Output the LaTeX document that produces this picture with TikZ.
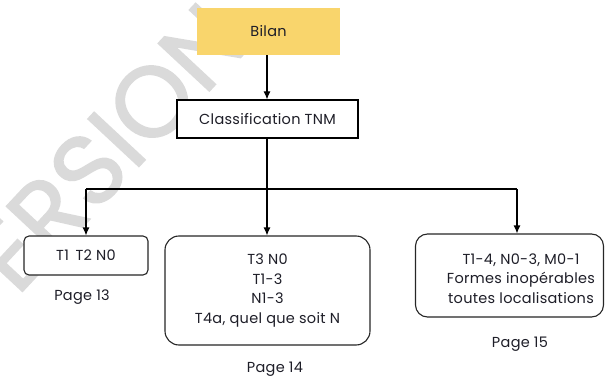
\documentclass[tikz,border=0pt]{standalone}
\usepackage{fontspec}
\setmainfont[LetterSpace=2]{Poppins}
\newfontfamily\wmfont[FakeBold=1.5]{Poppins}
\usetikzlibrary{arrows.meta}
\definecolor{bilanfill}{HTML}{F9D56C}
\definecolor{txt}{HTML}{1E1E28}
\definecolor{wmark}{HTML}{DADADA}
\tikzset{
  x=1pt, y=-1pt,
  every node/.style={font=\fontsize{14.5}{19.5}\selectfont, text=txt, inner sep=0pt},
  conn/.style={line width=1.1pt, draw=black},
  arr/.style={conn, -{Latex[length=8pt,width=7pt]}},
  squarebox/.style={draw=black, line width=1.1pt, fill=white},
  roundbox/.style={draw=black!85, line width=1.1pt, fill=white},
  pagelbl/.style={},
}
\begin{document}
\begin{tikzpicture}
\useasboundingbox (0,0) rectangle (605,377);
% faint watermark behind the chart
\node[text=wmark, font=\wmfont\fontsize{100}{100}\selectfont, rotate=47] (wm) at (86,172) {VERSION};

% top of the chart
\node[fill=bilanfill, minimum width=143pt, minimum height=47pt] (bilan) at (268.5,31.5) {Bilan};
\node[squarebox, minimum width=181pt, minimum height=38pt] (tnm) at (267.5,119) {Classification TNM};

% the three outcomes
\node[roundbox, rounded corners=5pt, minimum width=124pt, minimum height=39pt] (left) at (86,255.5) {T1\, T2 N0};
\node[roundbox, rounded corners=14pt, minimum width=205pt, minimum height=109pt, align=center] (mid) at (267.5,290.5) {T3 N0\\T1-3\\N1-3\\T4a, quel que soit N};
\node[roundbox, rounded corners=12pt, minimum width=188pt, minimum height=83pt] (right) at (509.5,275.5) {};
\node[align=center] (righttext) at (521,278.5) {T1-4, N0-3, M0-1\\Formes inopérables\\toutes localisations};

% page references
\node[pagelbl] (p13) at (82,297) {Page 13};
\node[pagelbl] (p14) at (275,369) {Page 14};
\node[pagelbl] (p15) at (520,344) {Page 15};

% connectors
\coordinate (jL) at (86,189);
\coordinate (jM) at (267,189);
\coordinate (jR) at (517,189);
\draw[arr] (bilan.south -| jM) -- (tnm.north -| jM);
\draw[conn] (tnm.south -| jM) -- (jM);
\draw[conn] (jL) -- (jR);
\draw[arr] (jL) -- (jL |- left.north);
\draw[arr] (jM) -- (jM |- mid.north);
\draw[arr] (jR) -- (jR |- right.north);
\end{tikzpicture}
\end{document}
